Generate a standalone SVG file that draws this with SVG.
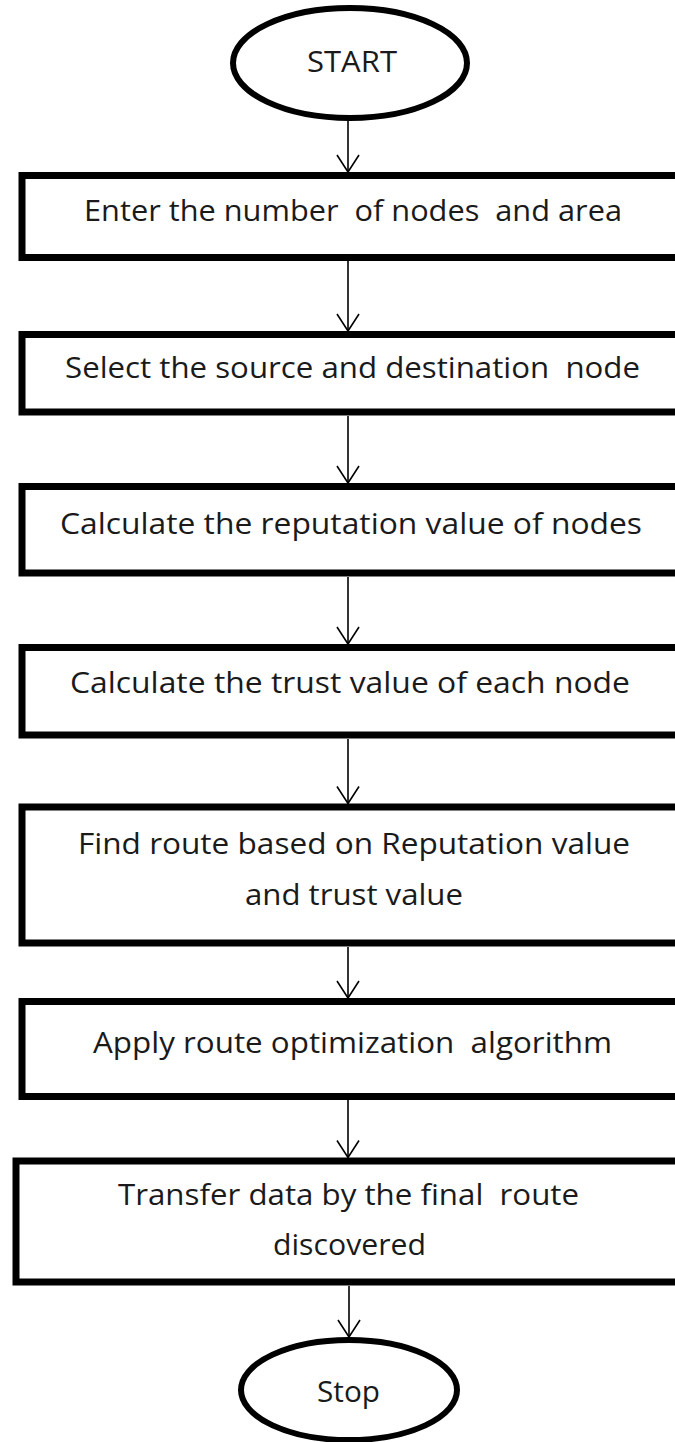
<svg xmlns="http://www.w3.org/2000/svg" width="675" height="1442" viewBox="0 0 675 1442">
  <style>
    .box { fill: #ffffff; stroke: #000000; stroke-width: 7; }
    .term { fill: #ffffff; stroke: #000000; stroke-width: 6; }
    .lbl { font-family: "Open Sans", "Noto Sans", sans-serif; font-size: 29px; fill: #1a1a1a; white-space: pre; }
    .flow { fill: none; stroke: #000000; stroke-width: 1.6; }
  </style>
  <defs>
    <marker id="vhead" markerUnits="userSpaceOnUse" markerWidth="30" markerHeight="30" refX="0" refY="0" viewBox="-20 -15 22 30" orient="auto" overflow="visible">
      <path d="M-17,-11 L0,0 L-17,11" fill="none" stroke="#000000" stroke-width="1.6"/>
    </marker>
  </defs>
  <rect width="675" height="1442" fill="#ffffff"/>

  <g id="connectors">
    <line class="flow" x1="348" y1="121" x2="348" y2="172" marker-end="url(#vhead)"/>
    <line class="flow" x1="348" y1="261" x2="348" y2="331" marker-end="url(#vhead)"/>
    <line class="flow" x1="348" y1="416" x2="348" y2="483" marker-end="url(#vhead)"/>
    <line class="flow" x1="348" y1="577" x2="348" y2="644" marker-end="url(#vhead)"/>
    <line class="flow" x1="348" y1="739" x2="348" y2="803.5" marker-end="url(#vhead)"/>
    <line class="flow" x1="348" y1="947" x2="348" y2="998" marker-end="url(#vhead)"/>
    <line class="flow" x1="348" y1="1100" x2="348" y2="1157.5" marker-end="url(#vhead)"/>
    <line class="flow" x1="349" y1="1286" x2="349" y2="1337" marker-end="url(#vhead)"/>
  </g>

  <g id="start">
    <ellipse class="term" cx="350" cy="63" rx="117" ry="55"/>
    <text class="lbl" x="307" y="72" textLength="90" lengthAdjust="spacingAndGlyphs">START</text>
  </g>

  <g id="enter-nodes">
    <rect class="box" x="22" y="175.5" width="680" height="82"/>
    <text class="lbl" x="84" y="221" textLength="538" lengthAdjust="spacingAndGlyphs">Enter the number  of nodes  and area</text>
  </g>

  <g id="select-endpoints">
    <rect class="box" x="22" y="334.5" width="680" height="77.5"/>
    <text class="lbl" x="65" y="378" textLength="575" lengthAdjust="spacingAndGlyphs">Select the source and destination  node</text>
  </g>

  <g id="reputation">
    <rect class="box" x="22" y="486.5" width="680" height="86.5"/>
    <text class="lbl" x="60" y="534" textLength="582" lengthAdjust="spacingAndGlyphs">Calculate the reputation value of nodes</text>
  </g>

  <g id="trust">
    <rect class="box" x="22" y="647.5" width="680" height="87.5"/>
    <text class="lbl" x="70" y="693" textLength="560" lengthAdjust="spacingAndGlyphs">Calculate the trust value of each node</text>
  </g>

  <g id="find-route">
    <rect class="box" x="22" y="807" width="680" height="136"/>
    <text class="lbl" x="78" y="854" textLength="552" lengthAdjust="spacingAndGlyphs">Find route based on Reputation value</text>
    <text class="lbl" x="245" y="905" textLength="218" lengthAdjust="spacingAndGlyphs">and trust value</text>
  </g>

  <g id="optimize">
    <rect class="box" x="22" y="1001.5" width="680" height="95"/>
    <text class="lbl" x="93" y="1053" textLength="519" lengthAdjust="spacingAndGlyphs">Apply route optimization  algorithm</text>
  </g>

  <g id="transfer">
    <rect class="box" x="16" y="1161" width="686" height="121"/>
    <text class="lbl" x="118" y="1205" textLength="461" lengthAdjust="spacingAndGlyphs">Transfer data by the final  route</text>
    <text class="lbl" x="273" y="1255" textLength="153" lengthAdjust="spacingAndGlyphs">discovered</text>
  </g>

  <g id="stop">
    <ellipse class="term" cx="349" cy="1390" rx="108" ry="50"/>
    <text class="lbl" x="317" y="1402" textLength="63" lengthAdjust="spacingAndGlyphs">Stop</text>
  </g>
</svg>
